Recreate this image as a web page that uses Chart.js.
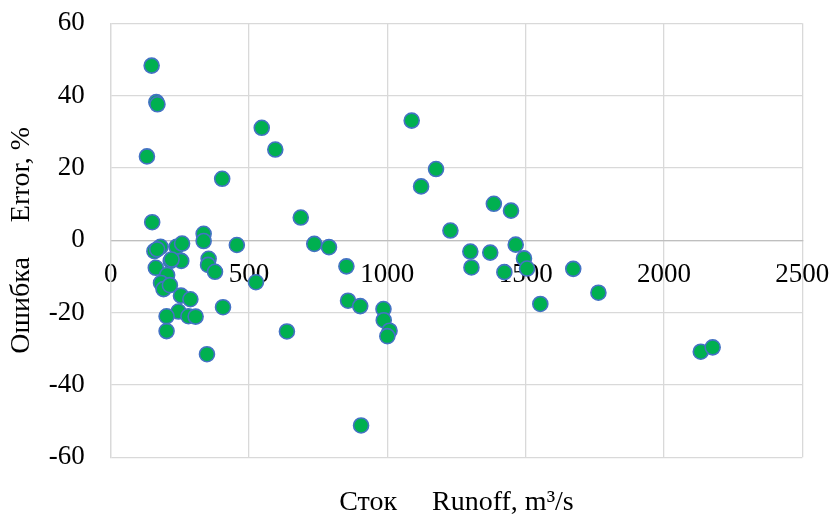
<!DOCTYPE html>
<html><head><meta charset="utf-8">
<script src="https://cdn.jsdelivr.net/npm/chart.js@4"></script>
<style>html,body{margin:0;padding:0;background:#fff}</style>
</head><body>
<canvas id="c" width="834" height="515"></canvas>
<script>
const runoff = [148,165,169,131,403,546,595,150,687,736,789,456,336,336,1088,1176,1122,1385,1447,1228,1300,1372,1464,1494,1304,1423,1505,1672,1553,1763,2133,2176,852,525,858,902,986,987,1008,1000,637,905,158,180,238,258,354,352,377,255,217,163,204,182,191,214,254,288,245,202,281,307,406,202,348,220,168];
const errorPct = [48.3,38.2,37.6,23.2,17.0,31.1,25.1,5.0,6.3,-1.0,-1.9,-1.3,1.8,-0.2,33.1,19.7,14.9,10.1,8.2,2.7,-3.1,-3.4,-1.2,-5.0,-7.5,-8.8,-7.8,-7.9,-17.6,-14.5,-30.8,-29.6,-7.2,-11.6,-16.7,-18.2,-19.0,-22.1,-25.0,-26.5,-25.2,-51.2,-3.0,-1.8,-1.8,-0.9,-5.1,-6.8,-8.7,-5.7,-5.7,-7.6,-9.6,-11.8,-13.5,-12.4,-15.3,-16.3,-19.7,-21.0,-21.0,-21.1,-18.5,-25.1,-31.5,-5.3,-2.5];
const xTickValues = [0,500,1000,1500,2000,2500];
const yTickValues = [-60,-40,-20,0,20,40,60];
const xTitle = 'Сток     Runoff, m³/s';
const yTitle = 'Ошибка     Error, %';

const FONT = "'Liberation Serif','Times New Roman',serif";
const tickFont = {family: FONT, size: 27};
const titleFont = {family: FONT, size: 28, lineHeight: 1.0};
const gridColor = '#d9d9d9';

new Chart(document.getElementById('c'), {
  type: 'scatter',
  data: {
    datasets: [{
      data: runoff.map((x, i) => ({x: x, y: errorPct[i]})),
      backgroundColor: '#00B050',
      borderColor: '#4472C4',
      borderWidth: 1.6,
      pointRadius: 7.5,
      pointHoverRadius: 7.5
    }]
  },
  options: {
    responsive: false,
    animation: false,
    devicePixelRatio: 1,
    layout: {padding: {top: 23.3, right: 31.7, left: 0, bottom: 0}},
    plugins: {legend: {display: false}, tooltip: {enabled: false}},
    scales: {
      x: {
        type: 'linear',
        position: {y: 0},
        min: 0, max: 2500,
        afterBuildTicks: s => { s.ticks = xTickValues.map(v => ({value: v})); },
        afterFit: s => { s.height = 0; s.paddingLeft = 0; s.paddingRight = 0; },
        grid: {color: gridColor, lineWidth: 1.3, drawTicks: false},
        border: {color: '#bfbfbf', width: 1.3},
        ticks: {font: tickFont, color: '#000', padding: 18, maxRotation: 0, autoSkip: false, callback: v => String(v)}
      },
      x2: {
        type: 'linear',
        position: 'bottom',
        min: 0, max: 2500,
        grid: {display: false, drawTicks: false},
        border: {display: false},
        ticks: {display: false},
        afterFit: s => { s.height = 57.7; s.paddingLeft = 0; s.paddingRight = 0; },
        title: {display: true, text: xTitle, font: titleFont, color: '#000', padding: {top: 0, bottom: -2}}
      },
      y: {
        type: 'linear',
        min: -60, max: 60,
        afterBuildTicks: s => { s.ticks = yTickValues.map(v => ({value: v})); },
        afterFit: s => { s.width = 110.7; s.paddingTop = 0; s.paddingBottom = 0; },
        grid: {color: gridColor, lineWidth: 1.3, drawTicks: false},
        border: {color: gridColor, width: 1.3},
        ticks: {font: tickFont, color: '#000', padding: 26, callback: v => String(v)},
        title: {display: true, text: yTitle, font: titleFont, color: '#000', padding: {top: 8, bottom: 0}}
      }
    }
  }
});
</script>
</body></html>
